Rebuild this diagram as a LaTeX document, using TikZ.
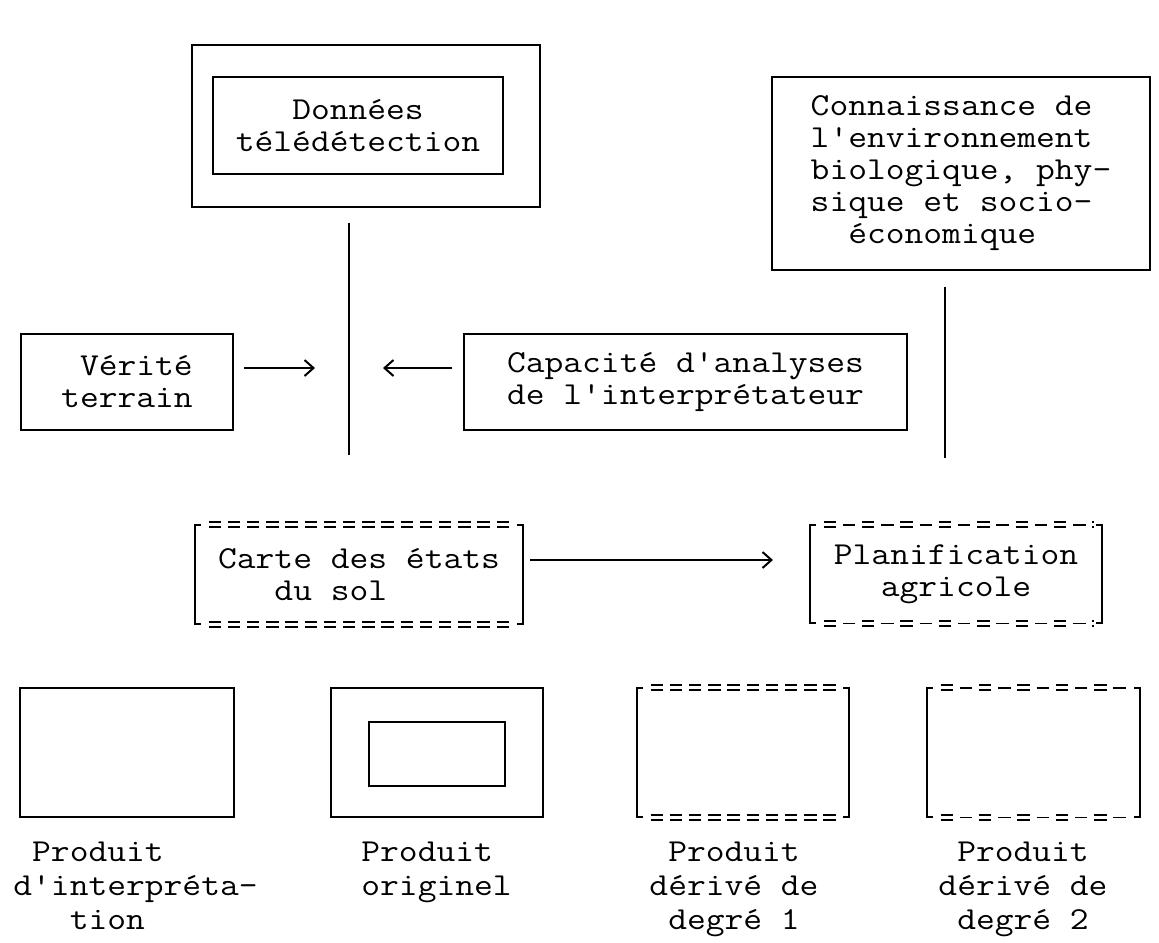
\documentclass[tikz,border=0pt]{standalone}
\usepackage{fontspec}
\setmonofont{Latin Modern Mono}[FakeStretch=1.14]
\usepackage{tikz}
\usetikzlibrary{arrows.meta, calc}

% frame with solid sides and a row of "=" on top and bottom
\newcommand\eqframe[1]{%
  \draw[side] ([xshift=3pt]#1.north west) -- (#1.north west) -- (#1.south west) -- ([xshift=3pt]#1.south west);
  \draw[side] ([xshift=-3pt]#1.north east) -- (#1.north east) -- (#1.south east) -- ([xshift=-3pt]#1.south east);
  \foreach \l/\r in {north west/north east, south west/south east}
    \foreach \d in {-1.3pt,1.3pt}
      \draw[eqbar] ([xshift=7pt,yshift=\d]#1.\l) -- ([xshift=-4pt,yshift=\d]#1.\r);}

% same frame, but the rows alternate "=" and "-"
\newcommand\altframe[1]{%
  \draw[side] ([xshift=3pt]#1.north west) -- (#1.north west) -- (#1.south west) -- ([xshift=3pt]#1.south west);
  \draw[side] ([xshift=-3pt]#1.north east) -- (#1.north east) -- (#1.south east) -- ([xshift=-3pt]#1.south east);
  \foreach \l/\r in {north west/north east, south west/south east}{
    \foreach \d in {-1.3pt,1.3pt}
      \draw[altbar] ([xshift=7pt,yshift=\d]#1.\l) -- ([xshift=-4pt,yshift=\d]#1.\r);
    \draw[altbar, dash phase=9.6pt] ([xshift=7pt]#1.\l) -- ([xshift=-4pt]#1.\r);}}

\begin{document}
\begin{tikzpicture}[x=0.5pt, y=-0.5pt,
  every node/.style={font=\fontsize{16}{16}\selectfont\ttfamily},
  box/.style={draw, line width=1pt, inner sep=0pt, align=center},
  plain/.style={inner sep=0pt, align=center},
  side/.style={line width=1pt},
  eqbar/.style={line width=0.9pt, dash pattern=on 6.2pt off 3.4pt},
  altbar/.style={line width=0.9pt, dash pattern=on 6.2pt off 13pt},
  conn/.style={line width=1pt},
  arr/.style={line width=1pt, -{Straight Barb[length=4.5pt, width=8pt]}}]

  \useasboundingbox (0,0) rectangle (1159,942);

  % remote sensing data (double frame)
  \node[box, minimum width=174pt, minimum height=81pt] (donOuter) at (366,126) {};
  \node[box, minimum width=145pt, minimum height=48.5pt] (donInner) at (358,125.5) {Données\\télédétection};

  % knowledge of the environment
  \node[box, align=left, minimum width=189pt, minimum height=96.5pt] (envir) at (961,173.5)
    {Connaissance de\\l'environnement\\biologique, phy-\\sique et socio-\\\phantom{xx}économique};

  % ground truth and analyst
  \node[box, align=right, minimum width=106pt, minimum height=48pt] (verite) at (127,382) {Vérité\\terrain};
  \node[box, minimum width=221.5pt, minimum height=48pt] (capa) at (685.5,382)
    {Capacité d'analyses\\de l'interprétateur};

  % map and planning (dashed frames)
  \node[plain, align=left, minimum width=164pt, minimum height=49.5pt] (carte) at (359,574.5)
    {Carte des états\\\phantom{xxx}du sol};
  \node[plain, minimum width=146pt, minimum height=49pt] (planif) at (956,574) {Planification\\agricole};
  \eqframe{carte}
  \altframe{planif}

  % connectors
  \coordinate (lTop) at (349,223);
  \coordinate (lBot) at (349,455);
  \draw[conn] (lTop) -- (lBot);
  \coordinate (rTop) at (945,287);
  \coordinate (rBot) at (945,458);
  \draw[conn] (rTop) -- (rBot);
  \coordinate (vTip) at (315,368);
  \draw[arr] ($(verite.east |- vTip)+(10,0)$) -- (vTip);
  \coordinate (cTip) at (383,368);
  \draw[arr] ($(capa.west |- cTip)-(11,0)$) -- (cTip);
  \coordinate (pTip) at (773,560);
  \draw[arr] ($(carte.east |- pTip)+(7,0)$) -- (pTip);

  % legend boxes
  \node[box, minimum width=107pt, minimum height=64.5pt] (prodInt) at (127,752.5) {};
  \node[box, minimum width=106pt, minimum height=64.5pt] (prodOrig) at (437,752.5) {};
  \node[box, minimum width=68pt, minimum height=32pt] (prodOrigIn) at (436.5,754) {};
  \node[plain, minimum width=106pt, minimum height=64.5pt] (prodDeg1) at (743,752.5) {};
  \node[plain, minimum width=106.5pt, minimum height=64.5pt] (prodDeg2) at (1033.5,752.5) {};
  \eqframe{prodDeg1}
  \altframe{prodDeg2}

  % legend texts
  \node[plain, align=left, anchor=north west, font=\fontsize{16}{17}\selectfont\ttfamily] (labInt) at (13,842)
    {\phantom{x}Produit\\d'interpréta-\\\phantom{xxx}tion};
  \node[plain, align=left, anchor=north west, font=\fontsize{16}{17}\selectfont\ttfamily] (labOrig) at (361,842) {Produit\\originel};
  \node[plain, anchor=north, font=\fontsize{16}{17}\selectfont\ttfamily] (labDeg1) at (734,842) {Produit\\dérivé de\\degré 1};
  \node[plain, anchor=north, font=\fontsize{16}{17}\selectfont\ttfamily] (labDeg2) at (1023,842) {Produit\\dérivé de\\degré 2};

\end{tikzpicture}
\end{document}
